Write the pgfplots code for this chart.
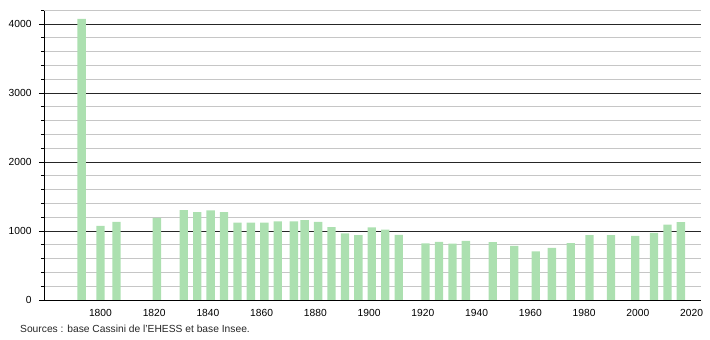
\documentclass[border=0pt]{standalone}
\usepackage{pgfplots}
\pgfplotsset{compat=1.18}
\usepackage{fontspec}
\setmainfont{Liberation Sans}
\definecolor{barg}{RGB}{172,224,176}
\pgfplotstableread{
year pop
1793 4070
1800 1075
1806 1130
1821 1190
1831 1303
1836 1273
1841 1298
1846 1273
1851 1120
1856 1120
1861 1120
1866 1140
1872 1140
1876 1155
1881 1132
1886 1055
1891 965
1896 938
1901 1050
1906 1020
1911 943
1921 820
1926 840
1931 815
1936 855
1946 838
1954 785
1962 705
1968 755
1975 822
1982 940
1990 940
1999 930
2006 972
2011 1090
2016 1128
}\pop
\begin{document}
\begin{tikzpicture}
\useasboundingbox (0,0) rectangle (710bp,340bp);
\begin{axis}[
  at={(44bp,40bp)}, anchor=south west,
  width=657bp, height=290bp, scale only axis,
  xmin=1779, xmax=2023.5, ymin=0, ymax=4200,
  axis x line=bottom, axis y line=left,
  axis line style={-, black, line width=0.8pt},
  xtick={1800,1820,...,2020},
  x tick label style={/pgf/number format/1000 sep={}, font=\fontsize{10.3}{12}\selectfont, yshift=-1bp},
  major x tick style={draw=none},
  ytick={0,1000,...,4000},
  minor y tick num=4,
  y tick label style={font=\fontsize{10.3}{12}\selectfont, xshift=-4bp},
  /pgf/number format/1000 sep={},
  /pgf/number format/assume math mode=true,
  tick align=outside,
  major tick length=5bp, minor tick length=3bp,
  ymajorgrids, yminorgrids,
  major grid style={black!85, line width=0.6pt},
  minor grid style={gray!45, line width=0.6pt},
  extra y ticks={4200}, extra y tick labels={},
  extra y tick style={major grid style={gray!45, line width=0.6pt}, major tick length=3bp},
  tick style={black, line width=0.6pt},
  clip=false,
]
\addplot[ybar, bar width=3.1, fill=barg, draw=none] table[x=year, y=pop] {\pop};
\end{axis}
\node[anchor=west, inner sep=0pt, text=black!85, font=\fontsize{10.3}{12}\selectfont] at (20bp,11bp) {Sources : base Cassini de l'EHESS et base Insee.};
\end{tikzpicture}
\end{document}
